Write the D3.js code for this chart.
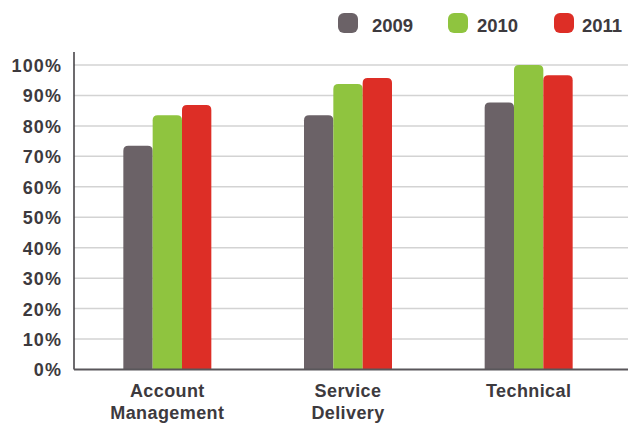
<!DOCTYPE html>
<html>
<head>
<meta charset="utf-8">
<script src="https://cdn.jsdelivr.net/npm/d3@7"></script>
<style>
  html, body { margin: 0; padding: 0; background: #fff; }
  svg text { font-family: "Liberation Sans", Arial, Helvetica, sans-serif; font-weight: bold; fill: #3d3a3e; }
</style>
</head>
<body>
<svg id="chart" width="628" height="423"></svg>
<script>
// Satisfaction scores by service area and year (percent)
const categories = [["Account", "Management"], ["Service", "Delivery"], ["Technical"]];
const years = ["2009", "2010", "2011"];
const values2009 = [73.5, 83.5, 87.7];
const values2010 = [83.5, 93.8, 100];
const values2011 = [86.9, 95.7, 96.6];
const yTicks = [0, 10, 20, 30, 40, 50, 60, 70, 80, 90, 100];
const colors = ["#6b6267", "#8fc43f", "#dd2e26"];

const series = [values2009, values2010, values2011];
const catKeys = categories.map(c => c.join(" "));

const svg = d3.select("#chart");
const plotLeft = 74, plotRight = 628, plotTop = 65, plotBottom = 369.5;

const y = d3.scaleLinear().domain([0, 100]).range([plotBottom, plotTop]);
const x0 = d3.scaleBand().domain(catKeys).range([77, 619]).padding(0);
const groupWidth = 88;
const x1 = d3.scaleBand().domain(years).range([0, groupWidth]);
const color = d3.scaleOrdinal().domain(years).range(colors);

// Gridlines
svg.append("g")
  .selectAll("line")
  .data(yTicks.filter(t => t > 0))
  .join("line")
  .attr("x1", plotLeft).attr("x2", plotRight)
  .attr("y1", d => y(d)).attr("y2", d => y(d))
  .attr("stroke", "#d3d3d3").attr("stroke-width", 1.5);

// Y axis labels
const yAxis = d3.axisLeft(y).tickValues(yTicks).tickFormat(d => d + "%").tickSize(0).tickPadding(12);
const gy = svg.append("g").attr("transform", `translate(${plotLeft},0)`).call(yAxis);
gy.select(".domain").remove();
gy.selectAll("text")
  .attr("font-size", 18).attr("font-family", null)
  .attr("letter-spacing", 1.1).attr("dy", "0.36em");

// Bars with rounded tops
function barPath(x, w, yTop, yBase, r) {
  r = Math.min(r, (yBase - yTop));
  return `M${x},${yBase}V${yTop + r}Q${x},${yTop} ${x + r},${yTop}H${x + w - r}Q${x + w},${yTop} ${x + w},${yTop + r}V${yBase}Z`;
}

const groups = svg.append("g")
  .selectAll("g")
  .data(catKeys)
  .join("g")
  .attr("transform", d => `translate(${x0(d) + (x0.bandwidth() - groupWidth) / 2},0)`);

groups.selectAll("path")
  .data((d, i) => years.map((yr, j) => ({ yr, v: series[j][i] })))
  .join("path")
  .attr("fill", d => color(d.yr))
  .attr("d", d => barPath(x1(d.yr), x1.bandwidth(), y(d.v), y(0), 5));

// Axis lines
svg.append("line")
  .attr("x1", plotLeft).attr("x2", plotLeft).attr("y1", 52).attr("y2", plotBottom)
  .attr("stroke", "#3d3a3e").attr("stroke-width", 1.5);
svg.append("line")
  .attr("x1", plotLeft).attr("x2", plotRight).attr("y1", plotBottom).attr("y2", plotBottom)
  .attr("stroke", "#59565a").attr("stroke-width", 2);

// Category labels
svg.append("g")
  .selectAll("text")
  .data(categories)
  .join("text")
  .attr("text-anchor", "middle")
  .attr("font-size", 18)
  .attr("letter-spacing", 0.4)
  .attr("x", (d, i) => x0(catKeys[i]) + x0.bandwidth() / 2)
  .attr("y", 397)
  .selectAll("tspan")
  .data(d => d)
  .join("tspan")
  .attr("x", function () { return d3.select(this.parentNode).attr("x"); })
  .attr("dy", (d, i) => i === 0 ? 0 : 22)
  .text(d => d);

// Legend
const legendX = [338, 448, 554];
const legendTextX = [34, 29, 28];
const legend = svg.append("g")
  .selectAll("g")
  .data(years)
  .join("g")
  .attr("transform", (d, i) => `translate(${legendX[i]},13)`);
legend.append("rect")
  .attr("width", 20).attr("height", 20).attr("rx", 6)
  .attr("fill", d => color(d));
legend.append("text")
  .attr("x", (d, i) => legendTextX[i]).attr("y", 18.5)
  .attr("font-size", 18.5)
  .text(d => d);
</script>
</body>
</html>
